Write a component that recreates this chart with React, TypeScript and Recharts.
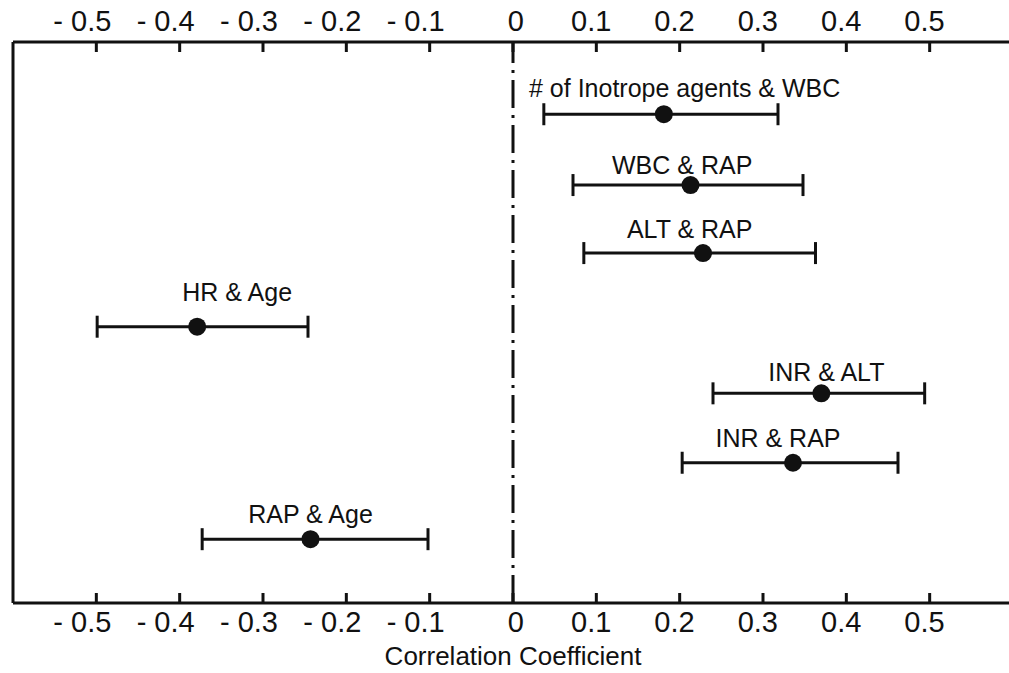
import React from 'react';
import {
  ScatterChart,
  Scatter,
  XAxis,
  YAxis,
  ErrorBar,
  ReferenceLine,
  Label
} from 'recharts';

// correlation pairs, read top to bottom
const pairs = [
  '# of Inotrope agents & WBC',
  'WBC & RAP',
  'ALT & RAP',
  'HR & Age',
  'INR & ALT',
  'INR & RAP',
  'RAP & Age'
];
const coefficients = [0.181, 0.213, 0.228, -0.379, 0.37, 0.336, -0.243];
const lowerCI = [0.037, 0.072, 0.085, -0.499, 0.24, 0.203, -0.373];
const upperCI = [0.318, 0.348, 0.363, -0.246, 0.494, 0.462, -0.102];
const rows = [6.97, 5.96, 4.99, 3.94, 2.99, 2.0, 0.91];

// where each pair name sits (in chart units)
const labelX = [0.206, 0.203, 0.212, -0.331, 0.376, 0.318, -0.243];
const labelY = [7.22, 6.12, 5.21, 4.31, 3.17, 2.22, 1.14];

const xTicks = [-0.5, -0.4, -0.3, -0.2, -0.1, 0, 0.1, 0.2, 0.3, 0.4, 0.5];

const INK = '#111';
const FONT = '"Liberation Sans", Arial, sans-serif';

const points = coefficients.map((r, i) => ({
  name: pairs[i],
  r,
  y: rows[i],
  err: [r - lowerCI[i], upperCI[i] - r]
}));

const labels = pairs.map((name, i) => ({ name, r: labelX[i], y: labelY[i] }));

const fmt = (v: number) => (v < 0 ? `- ${Math.abs(v)}` : String(v));

// ticks point inward; the number part sits over the tick, "- " hangs left
const tickText = (x: number, y: number, v: number) => (
  <text
    x={v === 0 ? x + 11 : x + 15}
    y={y}
    textAnchor="end"
    fontSize={29}
    fontFamily={FONT}
    fill={INK}
  >
    {fmt(v)}
  </text>
);

const BottomTick = ({ x, y, payload }: any) => (
  <g>
    <line x1={x} x2={x} y1={y} y2={y - 10} stroke={INK} strokeWidth={3} />
    {tickText(x, y + 29, payload.value)}
  </g>
);

const TopTick = ({ x, y, payload }: any) => (
  <g>
    <line x1={x} x2={x} y1={y} y2={y + 10} stroke={INK} strokeWidth={3} />
    {tickText(x, y - 11, payload.value)}
  </g>
);

const Dot = ({ cx, cy }: any) => <circle cx={cx} cy={cy} r={9} fill={INK} />;

const PairLabel = ({ cx, cy, payload }: any) => (
  <text x={cx} y={cy} textAnchor="middle" fontSize={25} fontFamily={FONT} fill={INK}>
    {payload.name}
  </text>
);

export default function App() {
  return (
    <div
      style={{
        position: 'fixed',
        left: 0,
        top: 0,
        width: 1009,
        height: 673,
        overflow: 'hidden',
        background: '#fff'
      }}
    >
      <ScatterChart
        width={1020}
        height={673}
        margin={{ top: 0, right: 7, bottom: 0, left: 13 }}
      >
        <XAxis
          xAxisId="bottom"
          type="number"
          dataKey="r"
          domain={[-0.6, 0.6]}
          ticks={xTicks}
          interval={0}
          height={70}
          tickSize={0}
          tickMargin={0}
          tickLine={false}
          tick={<BottomTick />}
          axisLine={{ stroke: INK, strokeWidth: 3 }}
        >
          <Label
            value="Correlation Coefficient"
            position="insideBottom"
            offset={8}
            style={{ fontSize: 26, fontFamily: FONT, fill: INK }}
          />
        </XAxis>
        <XAxis
          xAxisId="top"
          orientation="top"
          type="number"
          dataKey="r"
          domain={[-0.6, 0.6]}
          ticks={xTicks}
          interval={0}
          height={42}
          tickSize={0}
          tickMargin={0}
          tickLine={false}
          tick={<TopTick />}
          axisLine={{ stroke: INK, strokeWidth: 3 }}
        />
        <YAxis type="number" dataKey="y" domain={[0, 8]} width={0} hide />
        <ReferenceLine
          xAxisId="bottom"
          x={-0.6}
          stroke={INK}
          strokeWidth={3}
        />
        <ReferenceLine
          xAxisId="bottom"
          x={0}
          stroke={INK}
          strokeWidth={3}
          strokeDasharray="28 7 3 7"
        />
        <Scatter
          xAxisId="bottom"
          data={points}
          shape={<Dot />}
          isAnimationActive={false}
        >
          <ErrorBar
            dataKey="err"
            direction="x"
            width={11}
            stroke={INK}
            strokeWidth={3}
            isAnimationActive={false}
          />
        </Scatter>
        <Scatter
          xAxisId="top"
          data={labels}
          shape={<PairLabel />}
          isAnimationActive={false}
        />
      </ScatterChart>
    </div>
  );
}
